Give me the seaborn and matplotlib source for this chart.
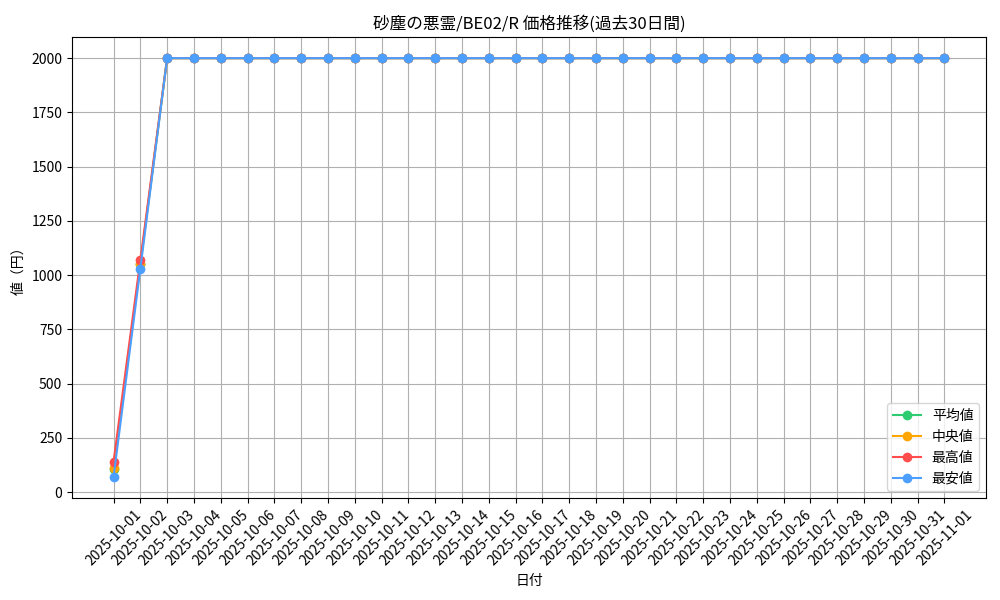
import matplotlib
matplotlib.use("Agg")
import matplotlib.pyplot as plt
import pandas as pd
import seaborn as sns

dates = ["2025-10-01", "2025-10-02", "2025-10-03", "2025-10-04", "2025-10-05", "2025-10-06",
         "2025-10-07", "2025-10-08", "2025-10-09", "2025-10-10", "2025-10-11", "2025-10-12",
         "2025-10-13", "2025-10-14", "2025-10-15", "2025-10-16", "2025-10-17", "2025-10-18",
         "2025-10-19", "2025-10-20", "2025-10-21", "2025-10-22", "2025-10-23", "2025-10-24",
         "2025-10-25", "2025-10-26", "2025-10-27", "2025-10-28", "2025-10-29", "2025-10-30",
         "2025-10-31", "2025-11-01"]
avg_price = [107, 1050, 2000, 2000, 2000, 2000, 2000, 2000, 2000, 2000, 2000, 2000, 2000, 2000, 2000, 2000,
             2000, 2000, 2000, 2000, 2000, 2000, 2000, 2000, 2000, 2000, 2000, 2000, 2000, 2000, 2000, 2000]
median_price = [110, 1050, 2000, 2000, 2000, 2000, 2000, 2000, 2000, 2000, 2000, 2000, 2000, 2000, 2000, 2000,
                2000, 2000, 2000, 2000, 2000, 2000, 2000, 2000, 2000, 2000, 2000, 2000, 2000, 2000, 2000, 2000]
max_price = [140, 1070, 2000, 2000, 2000, 2000, 2000, 2000, 2000, 2000, 2000, 2000, 2000, 2000, 2000, 2000,
             2000, 2000, 2000, 2000, 2000, 2000, 2000, 2000, 2000, 2000, 2000, 2000, 2000, 2000, 2000, 2000]
min_price = [70, 1030, 2000, 2000, 2000, 2000, 2000, 2000, 2000, 2000, 2000, 2000, 2000, 2000, 2000, 2000,
             2000, 2000, 2000, 2000, 2000, 2000, 2000, 2000, 2000, 2000, 2000, 2000, 2000, 2000, 2000, 2000]

series = [("平均値", avg_price, "#2ecc71"),
          ("中央値", median_price, "#ffa500"),
          ("最高値", max_price, "#ff4d4d"),
          ("最安値", min_price, "#4d9fff")]

plt.rcParams['font.family'] = ['Noto Sans CJK JP', 'DejaVu Sans']

fig, ax = plt.subplots(figsize=(10, 6), dpi=100)
for name, vals, color in series:
    df = pd.DataFrame({"日付": dates, "値": vals})
    sns.lineplot(x="日付", y="値", data=df, marker="o", color=color, label=name,
                 markersize=7, markeredgewidth=0, linewidth=1.5, ax=ax)

ax.set_title("砂塵の悪霊/BE02/R 価格推移(過去30日間)")
ax.set_xlabel("日付")
ax.set_ylabel("値（円）")
ax.grid(True, color="#b0b0b0")
plt.xticks(rotation=45)
ax.legend(loc="lower right")
plt.subplots_adjust(left=0.072, right=0.986, top=0.938, bottom=0.17)
plt.savefig("out.png")
